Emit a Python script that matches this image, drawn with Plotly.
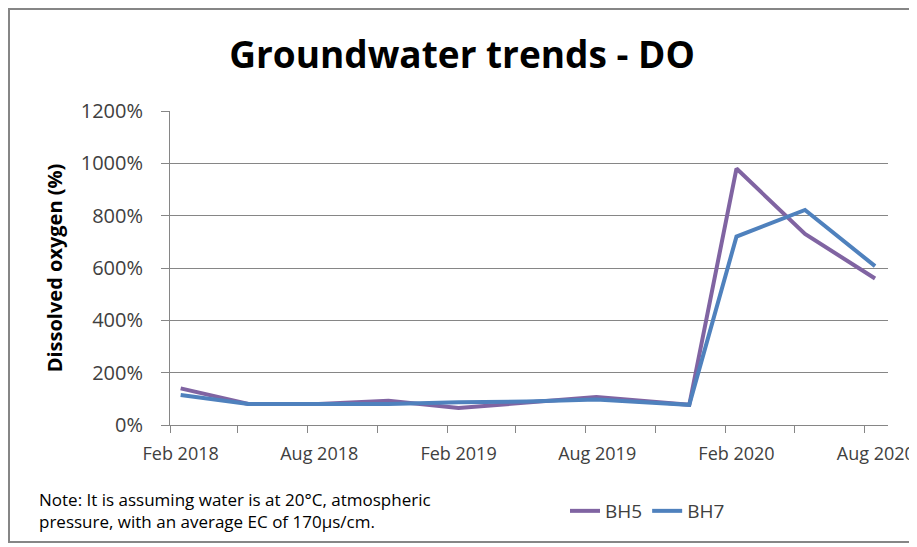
import plotly.graph_objects as go

dates = ["2018-02-15", "2018-05-15", "2018-08-15", "2018-11-15", "2019-02-15",
         "2019-05-15", "2019-08-15", "2019-12-15", "2020-02-15", "2020-05-15", "2020-08-15"]
bh5 = [140, 80, 80, 93, 65, 85, 107, 77, 980, 730, 560]
bh7 = [115, 80, 80, 80, 87, 90, 97, 77, 720, 822, 607]

x_tick_dates = ["2018-02-15", "2018-08-16", "2019-02-15", "2019-08-16", "2020-02-15", "2020-08-16"]
x_tick_labels = ["Feb 2018", "Aug 2018", "Feb 2019", "Aug 2019", "Feb 2020", "Aug 2020"]

title_text = "Groundwater trends - DO"
y_title = "Dissolved oxygen (%)"
note_text = "Note: It is assuming water is at 20°C, atmospheric<br>pressure, with an average EC of 170µs/cm."

FONT = "Open Sans"
L, R, T, B = 162, 37, 103, 130
W, H = 917, 547
PW = W - L - R
PH = H - T - B

fig = go.Figure()
fig.add_trace(go.Scatter(x=dates, y=bh5, mode="lines", name="BH5",
                         line=dict(color="#8064A2", width=4)))
fig.add_trace(go.Scatter(x=dates, y=bh7, mode="lines", name="BH7",
                         line=dict(color="#4F81BD", width=4)))

fig.update_layout(
    width=W, height=H,
    margin=dict(l=L, r=R, t=T, b=B, autoexpand=False),
    paper_bgcolor="white", plot_bgcolor="white",
    font=dict(family=FONT, size=20, color="#404040"),
    title=dict(text="<b>" + title_text + "</b>", x=454 / W, xanchor="center",
               y=1 - 47 / H, yanchor="middle", yref="container",
               font=dict(family=FONT, size=37, color="black")),
    showlegend=True,
    legend=dict(orientation="h", x=(557 - L) / PW, xanchor="left",
                y=-(503 - (T + PH)) / PH, yanchor="middle",
                font=dict(size=19, color="#404040"), itemwidth=30,
                bgcolor="rgba(0,0,0,0)"),
    xaxis=dict(type="date", range=["2018-02-01", "2020-09-01"],
               tickmode="array", tickvals=x_tick_dates, ticktext=x_tick_labels,
               ticks="", ticklabelstandoff=12,
               tickfont=dict(size=18),
               showline=True, linecolor="#868686", linewidth=1,
               showgrid=False, zeroline=False,
               minor=dict(tick0="2018-02-01", dtick="M3", ticks="outside",
                          ticklen=7, tickcolor="#868686", showgrid=False)),
    yaxis=dict(range=[0, 1200], dtick=200, ticksuffix="%",
               ticks="outside", ticklen=8, tickcolor="#868686",
               ticklabelstandoff=14,
               showline=True, linecolor="#868686", linewidth=1,
               showgrid=True, gridcolor="#868686", gridwidth=1,
               zeroline=False,
               title=dict(text="<b>" + y_title + "</b>", standoff=12,
                          font=dict(size=20, color="black"))),
)

fig.add_annotation(text=note_text, xref="paper", yref="paper",
                   x=(29 - L) / PW, xanchor="left",
                   y=-(502 - (T + PH)) / PH, yanchor="middle",
                   align="left", showarrow=False,
                   font=dict(size=17, color="black"))

fig.add_shape(type="rect", xref="paper", yref="paper",
              x0=(1 - L) / PW, x1=(907 - L) / PW,
              y0=-(534 - (T + PH)) / PH, y1=1 + (T - 1) / PH,
              line=dict(color="#868686", width=2), fillcolor="rgba(0,0,0,0)")

fig.write_html("out.html")
